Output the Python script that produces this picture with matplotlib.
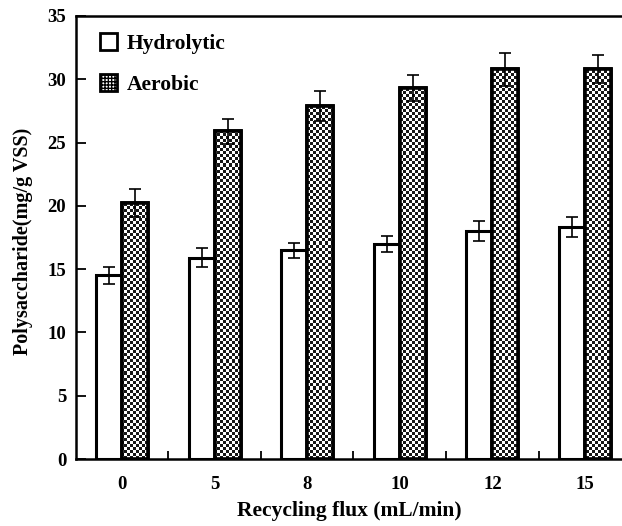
import numpy as np
import matplotlib
matplotlib.use("Agg")
import matplotlib.pyplot as plt
from matplotlib.patches import Patch

categories = ["0", "5", "8", "10", "12", "15"]
hydrolytic = [14.5, 15.9, 16.5, 17.0, 18.0, 18.3]
hydrolytic_err = [0.65, 0.75, 0.6, 0.65, 0.8, 0.8]
aerobic = [20.2, 25.9, 27.9, 29.3, 30.8, 30.8]
aerobic_err = [1.1, 1.0, 1.2, 1.0, 1.3, 1.1]
yticks = [0, 5, 10, 15, 20, 25, 30, 35]

plt.rcParams['font.family'] = ['Liberation Serif', 'DejaVu Serif']
plt.rcParams['font.weight'] = 'bold'

W, H = 622, 526
fig = plt.figure(figsize=(W / 100, H / 100), dpi=100)
ax = fig.add_axes([76 / W, 1 - 459 / H, (W - 76) / W, (459 - 16) / H])

x = np.arange(len(categories))
bw = 0.28
ax.set_xlim(-0.497, 5.40)
ax.set_ylim(0, 35)

# hydrolytic bars
ax.bar(x - bw / 2, hydrolytic, bw, facecolor='white', edgecolor='black', linewidth=2.2, zorder=2)
ax.errorbar(x - bw / 2, hydrolytic, yerr=hydrolytic_err, fmt='none', ecolor='black',
            elinewidth=1.2, capsize=4.5, capthick=1.2, zorder=3)

# aerobic bars with checkerboard fill
abars = ax.bar(x + bw / 2, aerobic, bw, facecolor='white', edgecolor='black', linewidth=2.6, zorder=2)
ny, nx = 443 // 3, 546 // 3
board = (np.indices((ny, nx)).sum(axis=0) % 2).astype(float)
xl, yl = ax.get_xlim(), ax.get_ylim()
for b in abars:
    im = ax.imshow(board, cmap='gray', vmin=-0.1, vmax=1.0, interpolation='nearest',
                   extent=[xl[0], xl[1], yl[0], yl[1]], aspect='auto', zorder=2.1)
    im.set_clip_path(b)
    b2 = plt.Rectangle(b.get_xy(), b.get_width(), b.get_height(), fill=False,
                       edgecolor='black', linewidth=2.6, zorder=2.2)
    ax.add_patch(b2)
ax.set_xlim(xl)
ax.set_ylim(yl)
ax.errorbar(x + bw / 2, aerobic, yerr=aerobic_err, fmt='none', ecolor='black',
            elinewidth=1.2, capsize=4.5, capthick=1.2, zorder=3)

# axes styling
for s in ['left', 'bottom', 'top']:
    ax.spines[s].set_linewidth(1.8)
ax.spines['right'].set_visible(False)
ax.set_yticks(yticks)
ax.set_yticklabels([str(v) for v in yticks], fontsize=13.5, fontweight='bold')
ax.tick_params(axis='y', direction='in', length=7, width=1.3, pad=7)
ax.set_xticks(x)
ax.set_xticklabels(categories, fontsize=13.5, fontweight='bold')
ax.tick_params(axis='x', which='major', length=0, pad=12)
ax.set_xticks(x[:-1] + 0.5, minor=True)
ax.tick_params(axis='x', which='minor', direction='in', length=6, width=1.3)

ax.set_xlabel("Recycling flux (mL/min)", fontsize=15.5, fontweight='bold', labelpad=6)
ax.set_ylabel("Polysaccharide(mg/g VSS)", fontsize=14.5, fontweight='bold')
ax.yaxis.set_label_coords(-0.078, 0.492)

handles = [Patch(facecolor='white', edgecolor='black', linewidth=2.0, label='Hydrolytic'),
           Patch(facecolor='white', edgecolor='black', linewidth=2.0, hatch='+++++', label='Aerobic')]
ax.legend(handles=handles, loc='upper left', bbox_to_anchor=(0.008, 1.005), frameon=False,
          prop={'size': 15.5, 'weight': 'bold'}, handlelength=0.8, handleheight=0.8,
          handletextpad=0.45, labelspacing=0.95)

fig.savefig("out.png", dpi=100)
